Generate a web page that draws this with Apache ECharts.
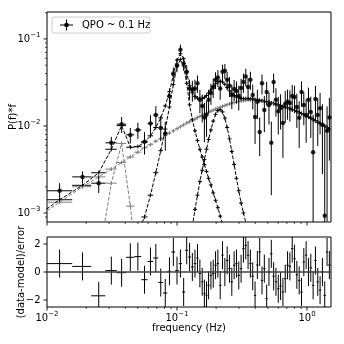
<!DOCTYPE html>
<html><head><meta charset="utf-8">
<script src="https://cdn.jsdelivr.net/npm/echarts@6/dist/echarts.min.js"></script>
<style>html,body{margin:0;padding:0;background:#fff}#c{width:344px;height:344px}</style>
</head><body><div id="c"></div>
<script>
// ---------- data ----------
const frequency = [0.0125,0.01875,0.025,0.03125,0.0375,0.04375,0.05,0.05625,0.0625,0.06875,0.075,0.08125,0.0875,0.09375,0.1,0.10625,0.1125,0.11875,0.125,0.13125,0.1375,0.14375,0.15,0.15625,0.1625,0.16875,0.175,
0.1824,0.190,0.198,0.2063,0.215,0.224,0.2334,0.2432,0.2534,0.264,0.2751,0.2867,0.2987,0.3113,0.3244,0.338,0.3522,0.367,0.3824,0.3985,0.4152,0.4327,0.4508,0.4698,0.4895,0.51,0.5315,0.5538,0.577,0.6013,0.6265,0.6528,0.6803,0.7088,0.7386,0.7697,0.802,0.8357,0.8708,0.9074,0.9455,0.9852,1.0266,1.0697,1.1146,1.1614,1.2102,1.2611,1.314,1.3692,1.4267,1.4866];
const power = [0.0018,0.0026,0.0022,0.0064,0.0105,0.0079,0.0090,0.0066,0.0107,0.0134,0.0095,0.0082,0.0220,0.040,0.050,0.075,0.052,0.042,0.027,0.026,0.027,0.031,0.020,0.017,0.0125,0.0135,0.020,
0.024,0.028,0.034,0.036,0.027,0.042,0.043,0.034,0.029,0.0227,0.0266,0.0253,0.0221,0.0273,0.032,0.037,0.028,0.034,0.0227,0.0127,0.019,0.0085,0.031,0.0153,0.0246,0.0174,0.0064,0.032,0.020,0.0148,0.0161,0.0108,0.018,0.019,0.0184,0.0221,0.0215,0.0165,0.0124,0.0246,0.0174,0.0134,0.020,0.0145,0.0050,0.0204,0.0134,0.016,0.0103,0.00093,0.0088,0.0125];
const powerError = [0.0004,0.0004,0.0005,0.0011,0.0022,0.0016,0.0019,0.0019,0.0026,0.0035,0.0028,0.0030,0.0050,0.0070,0.0080,0.0110,0.0090,0.0080,0.0070,0.0070,0.0070,0.0070,0.0060,0.0060,0.0060,0.0060,0.0060,
0.0065,0.007,0.0075,0.008,0.007,0.0085,0.0085,0.008,0.0075,0.007,0.0072,0.0072,0.007,0.0075,0.008,0.0085,0.0075,0.008,0.0072,0.0065,0.007,0.0040,0.008,0.0068,0.0075,0.007,0.0048,0.008,0.0072,0.0068,0.007,0.0065,0.0072,0.0072,0.0072,0.0075,0.0075,0.007,0.0068,0.008,0.0072,0.007,0.0075,0.0072,0.0085,0.0085,0.0075,0.008,0.0075,0.0090,0.0080,0.0085];
const residual = [0.6,0.4,-1.7,0.1,-0.05,1.05,1.1,-0.55,0.75,1.0,-0.75,-1.5,0.05,1.43,0.1,0.6,-1.43,1.55,1.07,0.36,0.6,1.0,-0.1,-0.7,-1.55,-1.67,-0.95,
-0.24,-0.12,0.48,0.6,-0.95,1.2,0,0.83,0.24,-0.7,0.48,0.6,-0.24,0.24,1.67,1.9,1.2,0.6,-0.3,-1.67,0.5,1.43,-0.6,0.24,-1.9,0,1.3,-0.3,-0.7,-1.2,-1.0,-1.43,-0.48,0.48,0.4,1.67,0.95,-0.2,-0.6,-1.43,0.71,1.2,0,0.3,-0.95,0.83,-0.7,-1.3,0,-1.67,1.43,0.5];

// model evaluated per frequency bin (first bin below the plotted range)
const modelFrequency = [0.00625].concat(frequency);
const totalModel = [0.00068,0.00142,0.00208,0.0029,0.0054,0.0101,0.0057,0.0058,0.0065,0.0077,0.0096,0.0124,0.0170,0.0248,0.0388,0.0573,0.0678,0.0593,0.0418,0.0291,
0.0241,0.0219,0.0209,0.0206,0.0207,0.0213,0.0224,0.0239,0.0259,0.0283,0.0306,0.0322,0.0327,0.0321,0.0301,0.0277,0.0254,0.0237,0.0224,0.0215,0.0211,0.0208,0.0206,0.0206,0.0205,0.0205,0.0204,0.0201,0.0199,0.0197,0.0195,0.0192,0.0189,0.0187,0.0184,0.0181,0.0178,0.0175,0.0172,0.0168,0.0165,0.0162,0.0158,0.0155,0.0151,0.0147,0.0143,0.0139,0.0135,0.0131,0.0127,0.0123,0.0119,0.0115,0.0111,0.0107,0.0103,0.0100,0.0096,0.0092];
const broadComponent = [0.00066,0.00133,0.0020,0.0026,0.0032,0.0038,0.0044,0.0050,0.0056,0.0061,0.0067,0.0072,0.0078,0.0083,0.0088,0.0093,0.0098,0.0103,0.0108,0.0112,
0.0116,0.0120,0.0125,0.0129,0.0132,0.0136,0.0140,0.0144,0.0148,0.0152,0.0156,0.0160,0.0164,0.0168,0.0172,0.0176,0.0179,0.0183,0.0186,0.0189,0.0192,0.0194,0.0196,0.0198,0.0199,0.0200,0.0200,0.0199,0.0198,0.0196,0.0194,0.0191,0.0188,0.0186,0.0183,0.0180,0.0177,0.0174,0.0171,0.0167,0.0164,0.0161,0.0157,0.0154,0.0150,0.0146,0.0142,0.0138,0.0134,0.0130,0.0126,0.0122,0.0118,0.0114,0.0110,0.0106,0.0102,0.0099,0.0095,0.0091];
const lowQpoStart = 2;
const lowQpoComponent = [0.00008,0.0003,0.0022,0.0063,0.0012,0.0002];
const qpoStart = 7;
const qpoComponent = [0.0006,0.0009,0.0016,0.0029,0.0052,0.0092,0.0165,0.030,0.048,0.058,0.049,0.031,0.0175,0.0118,0.0088,0.0068,0.0054,0.0044,0.0036,0.0030,0.0025,0.0021,0.0017,0.0014,0.00115,0.00092,0.00075,0.0006];
const humpStart = 20;
const humpComponent = [0.0007,0.0011,0.0016,0.0023,0.0031,0.0041,0.0054,0.0070,0.0090,0.0114,0.0136,0.0150,0.0154,0.0145,0.0123,0.0096,0.0071,0.0051,0.0036,0.0025,0.0018,0.0013,0.0010,0.00078,0.0006];

// ticks
const xMajorTicks = [0.01, 0.1, 1];
const xTickExponents = ['\u22122', '\u22121', '0'];
const xMinorTicks = [0.02,0.03,0.04,0.05,0.06,0.07,0.08,0.09,0.2,0.3,0.4,0.5,0.6,0.7,0.8,0.9];
const yMajorTicks = [0.001, 0.01, 0.1];
const yTickExponents = ['\u22123', '\u22122', '\u22121'];
const yMinorTicks = [0.0009,0.002,0.003,0.004,0.005,0.006,0.007,0.008,0.009,0.02,0.03,0.04,0.05,0.06,0.07,0.08,0.09,0.2];
const rTicks = [-2, 0, 2];
const rTickLabels = ['\u22122', '0', '2'];

// axis ranges
const X_MIN = 0.01, X_MAX = 1.53, Y_MIN = 0.000788, Y_MAX = 0.204, R_MIN = -2.5, R_MAX = 2.5;
const FONT = 'DejaVu Sans';

// ---------- helpers ----------
const clamp = (v, lo, hi) => Math.min(hi, Math.max(lo, v));
const halfW = modelFrequency.map((f, i, a) => {
  const lo = i > 0 ? a[i-1] : 2*f - a[i+1];
  const hi = i < a.length-1 ? a[i+1] : 2*f - a[i-1];
  return (hi - lo) / 4;
});

function errRender(color, lw) {
  return function (params, api) {
    const x = api.value(0), y = api.value(1);
    const p = api.coord([x, y]);
    const l = api.coord([api.value(2), y]), r = api.coord([api.value(3), y]);
    const b = api.coord([x, api.value(4)]), t = api.coord([x, api.value(5)]);
    return { type: 'group', children: [
      { type: 'line', shape: { x1: l[0], y1: p[1], x2: r[0], y2: p[1] }, style: { stroke: color, lineWidth: lw } },
      { type: 'line', shape: { x1: p[0], y1: b[1], x2: p[0], y2: t[1] }, style: { stroke: color, lineWidth: lw } }
    ]};
  };
}

function modelSeries(values, start, color, name) {
  const pts = values.map((v, k) => [modelFrequency[start + k], v]);
  const bars = values.map((v, k) => {
    const i = start + k, f = modelFrequency[i];
    return [f, v, Math.max(f - halfW[i], X_MIN), Math.min(f + halfW[i], X_MAX)];
  }).filter(d => d[1] >= Y_MIN && d[1] <= Y_MAX && d[3] > X_MIN && d[0] <= X_MAX);
  return [
    { type: 'line', name: name, xAxisIndex: 0, yAxisIndex: 0, data: pts, showSymbol: false, silent: true, z: 2,
      lineStyle: { color: color, width: 1, type: [3.7, 1.6] }, clip: true },
    { type: 'custom', name: name + ' bins', xAxisIndex: 0, yAxisIndex: 0, data: bars, silent: true, z: 2, clip: true,
      encode: { x: 0, y: 1 },
      renderItem: function (params, api) {
        const p = api.coord([api.value(0), api.value(1)]);
        const l = api.coord([api.value(2), api.value(1)]), r = api.coord([api.value(3), api.value(1)]);
        return { type: 'group', children: [
          { type: 'line', shape: { x1: Math.min(l[0], p[0]-2), y1: p[1], x2: Math.max(r[0], p[0]+2), y2: p[1] }, style: { stroke: color, lineWidth: 1 } },
          { type: 'line', shape: { x1: p[0], y1: p[1]-2, x2: p[0], y2: p[1]+2 }, style: { stroke: color, lineWidth: 1 } }
        ]};
      } }
  ];
}

const supRich = {
  b: { fontSize: 10, fontFamily: FONT, lineHeight: 12, verticalAlign: 'bottom', color: '#000' },
  s: { fontSize: 7, fontFamily: FONT, lineHeight: 12, verticalAlign: 'top', color: '#000' }
};

function xTicks(gridIdx, yVal, labels) {
  const ticks = xMajorTicks.map((v, i) => ({ v, major: true, e: xTickExponents[i] }))
    .concat(xMinorTicks.map(v => ({ v, major: false })));
  return { type: 'custom', xAxisIndex: gridIdx, yAxisIndex: gridIdx, silent: true, z: 6,
    data: ticks.map(t => [t.v, yVal]), encode: { x: 0, y: 1 },
    renderItem: function (params, api) {
      const t = ticks[params.dataIndex];
      const p = api.coord([t.v, yVal]);
      const len = t.major ? 3.5 : 2;
      const ch = [{ type: 'line', shape: { x1: p[0], y1: p[1], x2: p[0], y2: p[1] + len }, style: { stroke: '#000', lineWidth: t.major ? 0.9 : 0.7 } }];
      if (labels && t.major) ch.push({ type: 'text', x: p[0], y: p[1] + len + 0.5,
        style: { text: '{b|10}{s|' + t.e + '}', rich: supRich, align: 'center', verticalAlign: 'top' } });
      return { type: 'group', children: ch };
    } };
}

function yLogTicks() {
  const ticks = yMajorTicks.map((v, i) => ({ v, major: true, e: yTickExponents[i] }))
    .concat(yMinorTicks.map(v => ({ v, major: false })));
  return { type: 'custom', xAxisIndex: 0, yAxisIndex: 0, silent: true, z: 6,
    data: ticks.map(t => [X_MIN, t.v]), encode: { x: 0, y: 1 },
    renderItem: function (params, api) {
      const t = ticks[params.dataIndex];
      const p = api.coord([X_MIN, t.v]);
      const len = t.major ? 3.5 : 2;
      const ch = [{ type: 'line', shape: { x1: p[0] - len, y1: p[1], x2: p[0], y2: p[1] }, style: { stroke: '#000', lineWidth: t.major ? 0.9 : 0.7 } }];
      if (t.major) ch.push({ type: 'text', x: p[0] - len - 3, y: p[1] - 1,
        style: { text: '{b|10}{s|' + t.e + '}', rich: supRich, align: 'right', verticalAlign: 'middle' } });
      return { type: 'group', children: ch };
    } };
}

function rTicksSeries() {
  return { type: 'custom', xAxisIndex: 1, yAxisIndex: 1, silent: true, z: 6,
    data: rTicks.map(v => [X_MIN, v]), encode: { x: 0, y: 1 },
    renderItem: function (params, api) {
      const p = api.coord([X_MIN, rTicks[params.dataIndex]]);
      return { type: 'group', children: [
        { type: 'line', shape: { x1: p[0] - 3.5, y1: p[1], x2: p[0], y2: p[1] }, style: { stroke: '#000', lineWidth: 0.9 } },
        { type: 'text', x: p[0] - 6.5, y: p[1], style: { text: rTickLabels[params.dataIndex], fontSize: 10, fontFamily: FONT, fill: '#000', align: 'right', verticalAlign: 'middle' } }
      ]};
    } };
}

// data error bars
const dataBars = frequency.map((f, i) => [f, power[i],
  clamp(f - halfW[i+1], X_MIN, X_MAX), clamp(f + halfW[i+1], X_MIN, X_MAX),
  clamp(power[i] - powerError[i], Y_MIN, Y_MAX), clamp(power[i] + powerError[i], Y_MIN, Y_MAX)]);
const residBars = frequency.map((f, i) => [f, clamp(residual[i], R_MIN, R_MAX),
  clamp(f - halfW[i+1], X_MIN, X_MAX), clamp(f + halfW[i+1], X_MIN, X_MAX),
  clamp(residual[i] - 1, R_MIN, R_MAX), clamp(residual[i] + 1, R_MIN, R_MAX)]);

const chart = echarts.init(document.getElementById('c'), null, { renderer: 'canvas' });
const hiddenAxis = { axisLine: { show: false }, axisTick: { show: false }, axisLabel: { show: false }, splitLine: { show: false } };
chart.setOption({
  animation: false,
  backgroundColor: '#fff',
  grid: [
    { left: 47, top: 12, width: 284, height: 210, show: true, borderColor: '#000', borderWidth: 1, backgroundColor: 'transparent' },
    { left: 47, top: 237, width: 284, height: 70, show: true, borderColor: '#000', borderWidth: 1, backgroundColor: 'transparent' }
  ],
  xAxis: [
    Object.assign({ type: 'log', logBase: 10, gridIndex: 0, min: X_MIN, max: X_MAX }, hiddenAxis),
    Object.assign({ type: 'log', logBase: 10, gridIndex: 1, min: X_MIN, max: X_MAX,
      name: 'frequency (Hz)', nameLocation: 'middle', nameGap: 16,
      nameTextStyle: { fontSize: 10, fontFamily: FONT, color: '#000' } }, hiddenAxis)
  ],
  yAxis: [
    Object.assign({ type: 'log', logBase: 10, gridIndex: 0, min: Y_MIN, max: Y_MAX,
      name: 'P(f)*f', nameLocation: 'middle', nameGap: 29,
      nameTextStyle: { fontSize: 10, fontFamily: FONT, color: '#000' } }, hiddenAxis),
    Object.assign({ type: 'value', gridIndex: 1, min: R_MIN, max: R_MAX,
      name: '(data-model)/error', nameLocation: 'middle', nameGap: 21,
      nameTextStyle: { fontSize: 10, fontFamily: FONT, color: '#000' } }, hiddenAxis)
  ],
  series: [].concat(
    modelSeries(broadComponent, 0, '#7f7f7f', 'broad Lorentzian'),
    modelSeries(lowQpoComponent, lowQpoStart, '#7f7f7f', 'Lorentzian 0.04 Hz'),
    modelSeries(qpoComponent, qpoStart, '#000', 'QPO Lorentzian'),
    modelSeries(humpComponent, humpStart, '#000', 'Lorentzian 0.2 Hz'),
    modelSeries(totalModel, 0, '#000', 'total model'),
    [
      { type: 'custom', name: 'data errors', xAxisIndex: 0, yAxisIndex: 0, data: dataBars, encode: { x: 0, y: 1 },
        renderItem: errRender('#000', 1), silent: true, z: 4, clip: true },
      { type: 'scatter', name: 'QPO ~ 0.1 Hz', xAxisIndex: 0, yAxisIndex: 0, data: frequency.map((f, i) => [f, power[i]]),
        symbol: 'circle', symbolSize: 4.5, itemStyle: { color: '#000' }, z: 5, silent: true },
      { type: 'custom', name: 'residuals', xAxisIndex: 1, yAxisIndex: 1, data: residBars, encode: { x: 0, y: 1 },
        renderItem: errRender('#000', 1), silent: true, z: 4, clip: true,
        markLine: { symbol: 'none', silent: true, label: { show: false }, animation: false,
          lineStyle: { color: '#404040', width: 1.5, type: 'solid' }, data: [{ yAxis: 0 }] } },
      xTicks(0, Y_MIN, false),
      xTicks(1, R_MIN, true),
      yLogTicks(),
      rTicksSeries()
    ]
  ),
  graphic: [
    { type: 'rect', shape: { x: 52, y: 17, width: 98, height: 16, r: 2 }, style: { fill: '#fff', stroke: '#cccccc', lineWidth: 1 }, z: 100 },
    { type: 'line', shape: { x1: 60, y1: 25, x2: 73, y2: 25 }, style: { stroke: '#000', lineWidth: 1 }, z: 101 },
    { type: 'line', shape: { x1: 66.5, y1: 19.5, x2: 66.5, y2: 30.5 }, style: { stroke: '#000', lineWidth: 1 }, z: 101 },
    { type: 'circle', shape: { cx: 66.5, cy: 25, r: 2.3 }, style: { fill: '#000' }, z: 101 },
    { type: 'text', x: 82, y: 25, style: { text: 'QPO ~ 0.1 Hz', fontSize: 10, fontFamily: FONT, fill: '#000', verticalAlign: 'middle' }, z: 101 }
  ]
});
</script></body></html>
